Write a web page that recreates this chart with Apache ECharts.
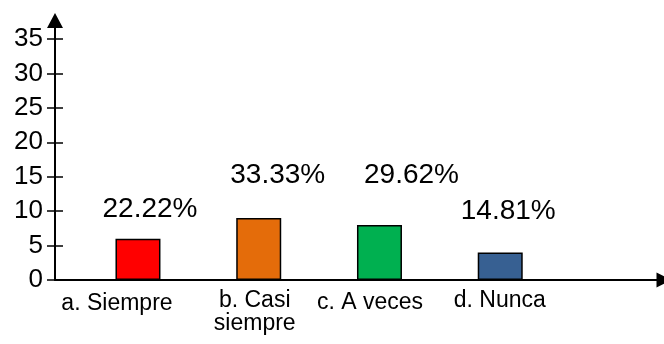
<!DOCTYPE html>
<html>
<head>
<meta charset="utf-8">
<script src="https://cdn.jsdelivr.net/npm/echarts@6/dist/echarts.min.js"></script>
<style>
html,body{margin:0;padding:0;background:#fff;}
#chart{width:664px;height:344px;}
</style>
</head>
<body>
<div id="chart"></div>
<script>
// ---- data ----
const categories = ['a. Siempre', 'b. Casi\nsiempre', 'c. A veces', 'd. Nunca'];
const counts = [6, 9, 8, 4];
const percentLabels = ['22.22%', '33.33%', '29.62%', '14.81%'];
const yTicks = [0, 5, 10, 15, 20, 25, 30, 35];

// ---- styles ----
const barColors = ['#FF0000', '#E46C0A', '#00B050', '#376092'];
const pctShift = [[12, -10], [19, -24], [32, -31], [8, -22]];
const catShift = [[-21, 7], [-4, 0], [-9.5, 5], [-0.5, 0]];
const FONT = '"Liberation Sans", Arial, sans-serif';

const rich = {};
catShift.forEach(function (s, i) {
  const dx = s[0], dy = s[1];
  rich['s' + i] = {
    fontFamily: FONT, fontSize: 23, color: '#000', lineHeight: 23,
    padding: [Math.max(dy, 0), dx < 0 ? -2 * dx : 0, 0, dx > 0 ? 2 * dx : 0]
  };
});

const yTop = 20.5, yBase = 280, yMaxTickPx = 39;
const axisMax = 35 * (yBase - yTop) / (yBase - yMaxTickPx);

const chart = echarts.init(document.getElementById('chart'), null, {renderer: 'canvas'});
chart.setOption({
  animation: false,
  backgroundColor: '#fff',
  grid: [
    {left: 55, right: -1.5, top: yTop, bottom: 344 - yBase},
    {left: 77.6, right: 103.4, top: yMaxTickPx, bottom: 344 - yBase}
  ],
  xAxis: [
    {
      type: 'value', gridIndex: 0, min: 0, max: 1, position: 'bottom',
      axisLine: {show: true, symbol: ['none', 'triangle'], symbolSize: [15, 15],
        lineStyle: {color: '#000', width: 2}},
      axisTick: {show: false}, axisLabel: {show: false}, splitLine: {show: false}
    },
    {
      type: 'category', gridIndex: 1, data: categories, position: 'bottom',
      axisLine: {show: false}, axisTick: {show: false}, splitLine: {show: false},
      axisLabel: {
        margin: 9, interval: 0,
        formatter: function (v, i) {
          return v.split('\n').map(function (l) { return '{s' + i + '|' + l + '}'; }).join('\n');
        },
        rich: rich
      }
    }
  ],
  yAxis: [
    {
      type: 'value', gridIndex: 0, min: 0, max: axisMax, position: 'left',
      axisLine: {show: true, symbol: ['none', 'triangle'], symbolSize: [16, 15],
        lineStyle: {color: '#000', width: 2}},
      axisTick: {show: true, customValues: yTicks, length: 8, lineStyle: {color: '#000', width: 1.5}},
      axisLabel: {show: true, customValues: yTicks, margin: 12, color: '#000',
        fontFamily: FONT, fontSize: 26},
      splitLine: {show: false}
    },
    {
      type: 'value', gridIndex: 0, min: 0, max: axisMax, position: 'left', offset: 0,
      axisLine: {show: false},
      axisTick: {show: true, inside: true, customValues: yTicks, length: 8, lineStyle: {color: '#000', width: 1.5}},
      axisLabel: {show: false}, splitLine: {show: false}
    },
    {
      type: 'value', gridIndex: 1, min: 0, max: 35, show: false
    }
  ],
  series: [{
    type: 'bar', xAxisIndex: 1, yAxisIndex: 2,
    barWidth: 45,
    data: counts.map(function (v, i) {
      return {
        value: v,
        itemStyle: {color: barColors[i], borderColor: '#000', borderWidth: 1.5},
        label: {offset: pctShift[i]}
      };
    }),
    label: {
      show: true, position: 'top', color: '#000', fontFamily: FONT, fontSize: 28,
      formatter: function (p) { return percentLabels[p.dataIndex]; }
    }
  }]
});
</script>
</body>
</html>
